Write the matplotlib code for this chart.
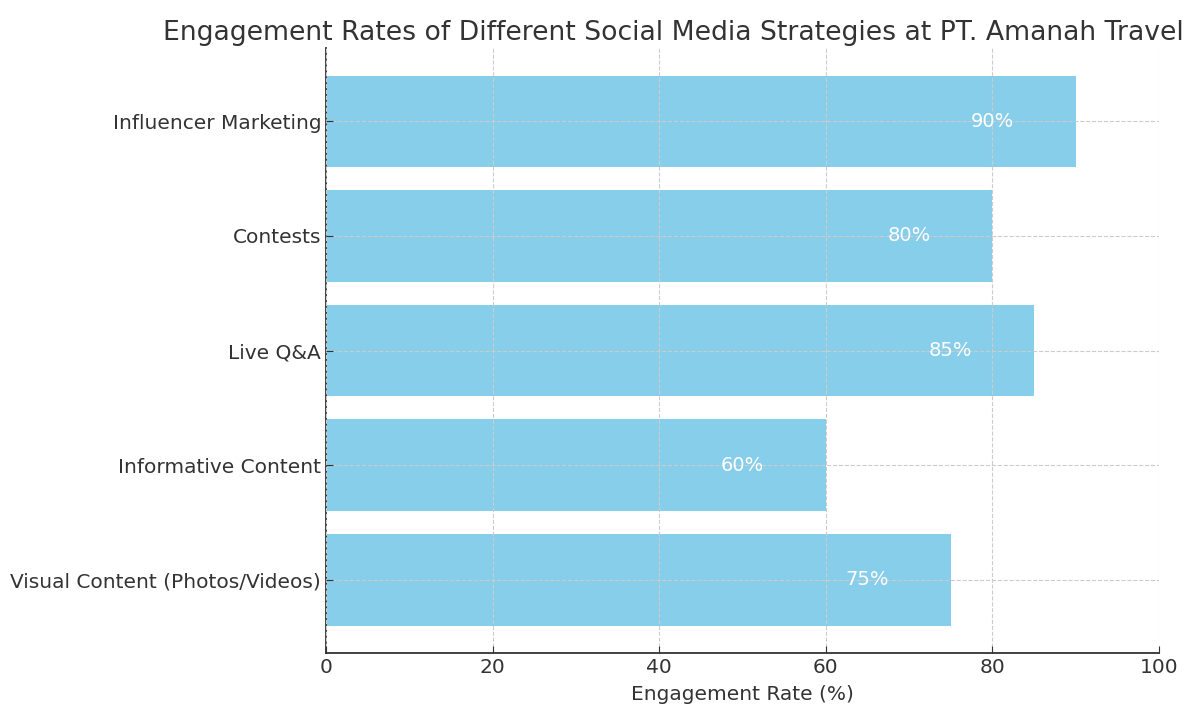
import matplotlib.pyplot as plt

strategies = ['Visual Content (Photos/Videos)', 'Informative Content', 'Live Q&A',
              'Contests', 'Influencer Marketing']
engagement = [75, 60, 85, 80, 90]

plt.rcParams['font.family'] = 'DejaVu Sans'
text_color = '#333333'

fig = plt.figure(figsize=(11.89, 7.04), dpi=100)
ax = fig.add_axes([0.2742, 0.0724, 0.7006, 0.8594])

bars = ax.barh(strategies, engagement, color='skyblue', height=0.8)

# value labels sit inside each bar, 10 points left of its end
for bar, val in zip(bars, engagement):
    ax.text(val - 10, bar.get_y() + bar.get_height() / 2, f'{val}%',
            ha='center', va='center', color='white', fontsize=14)

ax.set_xlim(0, 100)
ax.set_xlabel('Engagement Rate (%)', fontsize=14.5, color=text_color, labelpad=6)
ax.set_title('Engagement Rates of Different Social Media Strategies at PT. Amanah Travel',
             fontsize=19.2, color=text_color, x=0.4166, pad=6)

ax.grid(True, linestyle='--', color='#cccccc', linewidth=0.8)
ax.set_axisbelow(False)
for side in ('top', 'right'):
    ax.spines[side].set_visible(False)
for side in ('left', 'bottom'):
    ax.spines[side].set_color(text_color)
    ax.spines[side].set_linewidth(1.3)
ax.tick_params(direction='in', labelsize=14.5, colors=text_color, length=5)

fig.savefig('out.png', dpi=100)
